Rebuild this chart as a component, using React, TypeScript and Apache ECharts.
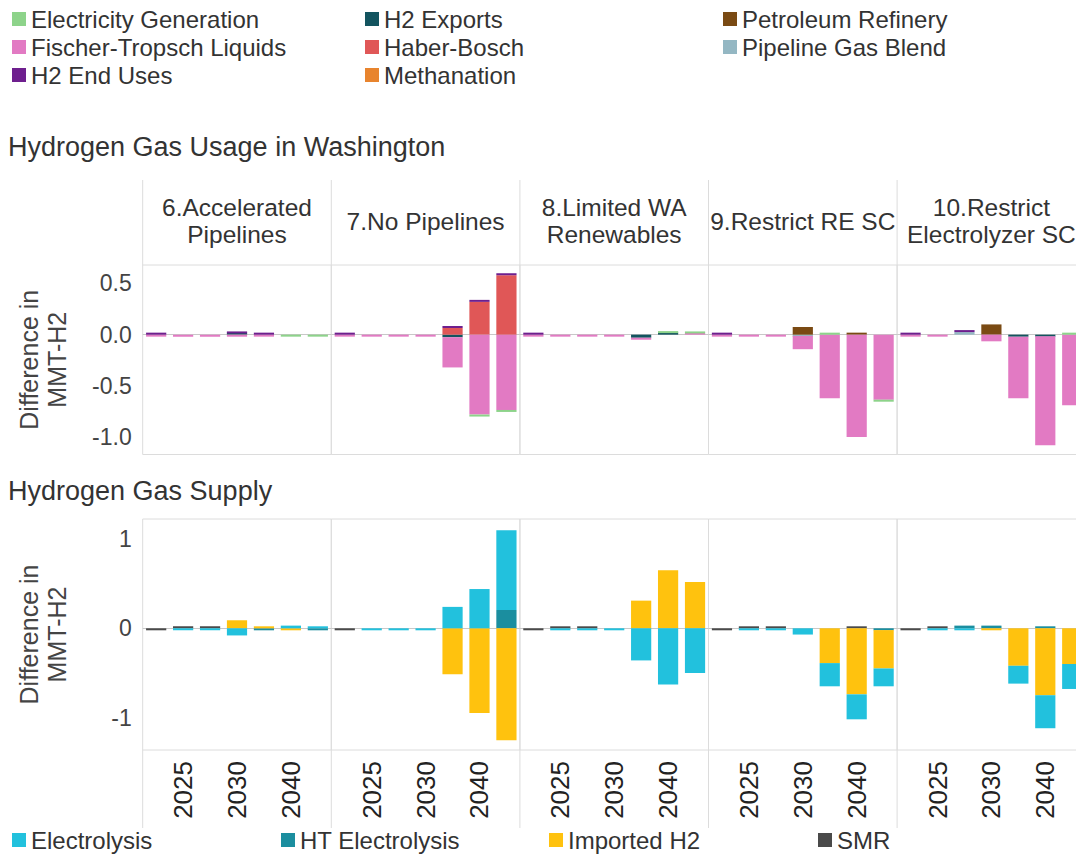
import React, { useEffect, useRef } from "react";
import * as echarts from "echarts";

const panels = ["6.Accelerated\nPipelines", "7.No Pipelines", "8.Limited WA\nRenewables", "9.Restrict RE SC", "10.Restrict\nElectrolyzer SC"];
const years = ["2022", "2025", "2027", "2030", "2035", "2040", "2050"];
const usageTicks = [-1, -0.5, 0, 0.5];
const supplyTicks = [-1, 0, 1];

// Usage (MMT-H2 difference), one row per scenario panel, one value per year
const elecGen = [
  [null, null, null, null, null, -0.012, -0.012],
  [null, null, null, null, null, -0.01, -0.01],
  [null, null, null, null, null, 0.006, 0.006],
  [null, null, null, null, 0.006, null, -0.01],
  [null, null, null, null, null, null, 0.008],
];
const ftLiquids = [
  [-0.008, -0.012, -0.012, -0.02, -0.006, null, null],
  [-0.008, -0.012, -0.012, -0.012, -0.295, -0.78, -0.735],
  [-0.008, -0.012, -0.012, -0.012, -0.008, null, 0.012],
  [-0.008, -0.012, -0.012, -0.13, -0.62, -1.0, -0.635],
  [-0.008, -0.012, null, -0.065, -0.6, -1.065, -0.69],
];
const h2EndUses = [
  [0.008, null, null, 0.012, 0.012, null, null],
  [0.008, null, null, null, 0.008, 0.01, 0.01],
  [0.008, null, null, null, null, null, null],
  [0.008, null, null, null, null, null, null],
  [0.008, null, 0.012, null, null, null, null],
];
const h2Exports = [
  [null, null, null, 0.012, null, null, null],
  [null, null, null, null, -0.025, null, null],
  [null, null, null, null, -0.03, 0.015, null],
  [null, null, null, null, null, null, null],
  [null, null, null, null, -0.02, -0.015, null],
];
const haberBosch = [
  [null, null, null, null, null, null, null],
  [null, null, null, null, 0.065, 0.32, 0.58],
  [null, null, null, null, null, null, null],
  [null, null, null, null, null, null, null],
  [null, null, null, null, null, null, null],
];
const methanation = [
  [null, null, null, null, null, null, null],
  [null, null, null, null, null, null, null],
  [null, null, null, null, null, null, null],
  [null, null, null, null, null, null, null],
  [null, null, null, null, null, null, null],
];
const petroleum = [
  [null, null, null, null, null, null, null],
  [null, null, null, null, null, null, null],
  [null, null, null, null, null, null, null],
  [null, null, null, 0.075, null, 0.01, null],
  [null, null, null, 0.1, null, null, null],
];
const pipelineBlend = [
  [null, null, null, null, null, null, null],
  [null, null, null, null, null, null, null],
  [null, null, null, null, null, null, null],
  [null, null, null, -0.012, null, null, null],
  [null, null, 0.025, null, null, null, null],
];

// Supply (MMT-H2 difference)
const electrolysis = [
  [null, -0.01, -0.01, -0.08, null, 0.03, 0.02],
  [null, -0.01, -0.01, -0.01, 0.24, 0.44, 0.895],
  [null, -0.008, -0.008, -0.012, -0.36, -0.63, -0.5],
  [null, -0.008, -0.01, -0.07, -0.26, -0.28, -0.2],
  [null, -0.008, -0.01, null, -0.2, -0.37, -0.28],
];
const htElectrolysis = [
  [null, null, null, null, -0.006, null, -0.015],
  [null, null, null, null, null, null, 0.205],
  [null, null, null, null, null, null, null],
  [null, null, null, null, null, null, -0.02],
  [null, null, 0.03, 0.03, null, 0.012, null],
];
const importedH2 = [
  [null, null, null, 0.09, 0.01, -0.02, null],
  [null, null, null, null, -0.515, -0.95, -1.255],
  [null, null, null, null, 0.31, 0.65, 0.52],
  [null, null, null, null, -0.39, -0.74, -0.43],
  [null, null, null, -0.01, -0.42, -0.75, -0.4],
];
const smr = [
  [-0.012, 0.015, 0.015, null, null, null, null],
  [-0.012, null, null, null, null, null, null],
  [-0.012, 0.01, 0.01, null, null, null, null],
  [-0.012, 0.02, 0.008, null, null, 0.015, null],
  [-0.012, 0.015, null, null, null, null, null],
];

// stacking order: first = nearest zero
const usageSeries = [
  { name: "H2 Exports", data: h2Exports, color: "#13545f" },
  { name: "Pipeline Gas Blend", data: pipelineBlend, color: "#94b7c3" },
  { name: "Petroleum Refinery", data: petroleum, color: "#7a4a13" },
  { name: "Haber-Bosch", data: haberBosch, color: "#e05757" },
  { name: "Fischer-Tropsch Liquids", data: ftLiquids, color: "#e27ac3" },
  { name: "Electricity Generation", data: elecGen, color: "#8dd38a" },
  { name: "H2 End Uses", data: h2EndUses, color: "#6e1f8e" },
  { name: "Methanation", data: methanation, color: "#e8842e" },
];
const supplySeries = [
  { name: "SMR", data: smr, color: "#4a4a4a" },
  { name: "HT Electrolysis", data: htElectrolysis, color: "#1b8e9f" },
  { name: "Imported H2", data: importedH2, color: "#ffc20e" },
  { name: "Electrolysis", data: electrolysis, color: "#22c1dd" },
];

const usageLegendCols = [
  ["Electricity Generation", "Fischer-Tropsch Liquids", "H2 End Uses"],
  ["H2 Exports", "Haber-Bosch", "Methanation"],
  ["Petroleum Refinery", "Pipeline Gas Blend"],
];
const supplyLegend = ["Electrolysis", "HT Electrolysis", "Imported H2", "SMR"];

const FONT = "'Liberation Sans', Arial, sans-serif";

export default function App() {
  const ref = useRef<HTMLDivElement>(null);
  useEffect(() => {
    if (!ref.current) return;
    const chart = echarts.init(ref.current, undefined, { renderer: "svg" });

    const plotLeft = 142.7;
    const panelW = 188.6;
    const topY = 265, topH = 189.5;
    const botY = 519, botH = 231;

    const grid: any[] = [];
    const xAxis: any[] = [];
    const yAxis: any[] = [];
    const series: any[] = [];
    const yName = "Difference in\nMMT-H2";

    for (let row = 0; row < 2; row++) {
      for (let p = 0; p < panels.length; p++) {
        const idx = row * panels.length + p;
        grid.push({
          left: plotLeft + panelW * p,
          width: panelW,
          top: row === 0 ? topY : botY,
          height: row === 0 ? topH : botH,
          show: true,
          borderColor: "#dcdcdc",
          borderWidth: 1,
          backgroundColor: "transparent",
        });
        xAxis.push({
          type: "category",
          gridIndex: idx,
          data: years,
          axisLine: { show: false },
          axisTick: { show: false },
          splitLine: { show: false },
          axisLabel: {
            show: row === 1,
            rotate: 90,
            interval: (i: number) => i % 2 === 1,
            fontSize: 26,
            fontFamily: FONT,
            color: "#222",
            margin: 11,
          },
        });
        yAxis.push({
          type: "value",
          gridIndex: idx,
          min: row === 0 ? -1.17 : -1.364,
          max: row === 0 ? 0.68 : 1.225,
          axisLine: { show: false },
          axisTick: { show: false },
          splitLine: { show: false },
          name: p === 0 ? yName : "",
          nameLocation: "middle",
          nameRotate: 90,
          nameGap: 72,
          nameTextStyle: { fontSize: 25, fontFamily: FONT, color: "#444", lineHeight: 28 },
          axisLabel: {
            show: p === 0,
            customValues: row === 0 ? usageTicks : supplyTicks,
            formatter: (v: number) => (row === 0 ? v.toFixed(1) : String(Math.round(v))),
            fontSize: 23,
            fontFamily: FONT,
            color: "#444",
            margin: 11,
          },
        });
        const defs = row === 0 ? usageSeries : supplySeries;
        defs.forEach((s, k) => {
          series.push({
            type: "bar",
            name: s.name,
            xAxisIndex: idx,
            yAxisIndex: idx,
            stack: `st${idx}`,
            data: s.data[p],
            barCategoryGap: "25%",
            barMinHeight: 2,
            itemStyle: { color: s.color },
            emphasis: { disabled: true },
            markLine: k === 0 ? {
              silent: true,
              symbol: "none",
              label: { show: false },
              lineStyle: { color: "#c8c8c8", type: "solid", width: 1 },
              data: [{ yAxis: 0 }],
              z: 1,
            } : undefined,
          });
        });
      }
    }

    const legend: any[] = [];
    const colX = [12, 365, 723];
    usageLegendCols.forEach((col, c) => {
      legend.push({
        orient: "vertical",
        left: colX[c],
        top: 7,
        padding: 0,
        itemGap: 4,
        itemWidth: 14,
        itemHeight: 14,
        icon: "rect",
        selectedMode: false,
        data: col,
        textStyle: { fontSize: 24, fontFamily: FONT, color: "#333" },
      });
    });
    const supX = [12, 281, 549, 818];
    supplyLegend.forEach((n, i) => {
      legend.push({
        orient: "horizontal",
        left: supX[i],
        top: 828,
        padding: 0,
        itemWidth: 14,
        itemHeight: 14,
        icon: "rect",
        selectedMode: false,
        data: [n],
        textStyle: { fontSize: 24, fontFamily: FONT, color: "#333" },
      });
    });

    const graphic: any[] = [];
    for (let i = 0; i <= panels.length; i++) {
      const x = plotLeft + panelW * i;
      graphic.push({ type: "line", shape: { x1: x, y1: 180, x2: x, y2: topY }, style: { stroke: "#dcdcdc", lineWidth: 1 }, silent: true });
      graphic.push({ type: "line", shape: { x1: x, y1: botY + botH, x2: x, y2: 828 }, style: { stroke: "#dcdcdc", lineWidth: 1 }, silent: true });
    }
    panels.forEach((t, i) => {
      graphic.push({
        type: "text",
        x: plotLeft + panelW * i + panelW / 2,
        y: 221,
        silent: true,
        style: { text: t, fontSize: 24.5, fontFamily: FONT, fill: "#333", align: "center", verticalAlign: "middle", lineHeight: 27 },
      });
    });
    graphic.push({ type: "text", left: 8, top: 133, silent: true, style: { text: "Hydrogen Gas Usage in Washington", fontSize: 27, fontFamily: FONT, fill: "#333" } });
    graphic.push({ type: "text", left: 8, top: 477, silent: true, style: { text: "Hydrogen Gas Supply", fontSize: 27, fontFamily: FONT, fill: "#333" } });

    chart.setOption({
      animation: false,
      backgroundColor: "#ffffff",
      textStyle: { fontFamily: FONT },
      grid,
      xAxis,
      yAxis,
      series,
      legend,
      graphic,
    });
    return () => chart.dispose();
  }, []);
  return (
    <div style={{ position: "fixed", left: 0, top: 0, width: 1076, height: 856, overflow: "hidden", background: "#fff" }}>
      <div ref={ref} style={{ width: 1100, height: 856 }} />
    </div>
  );
}
